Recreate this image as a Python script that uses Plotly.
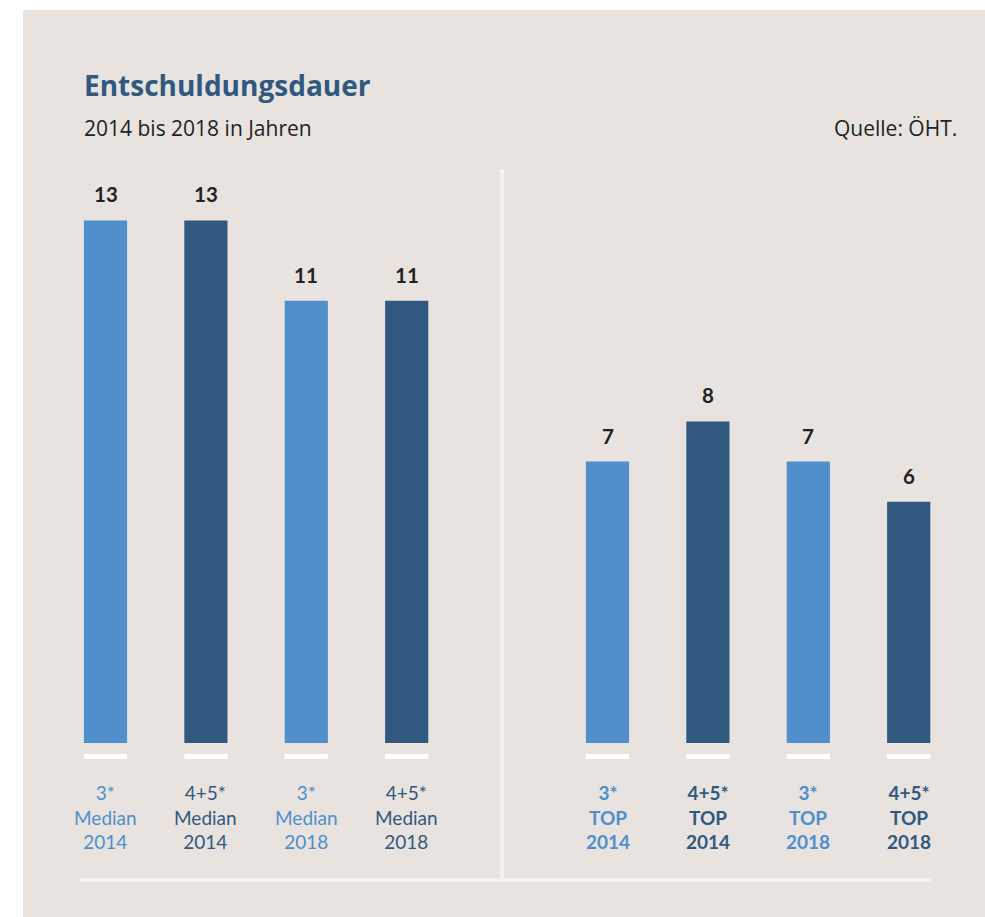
import plotly.graph_objects as go

# ---- data ----
stars = ["3*", "4+5*", "3*", "4+5*", "3*", "4+5*", "3*", "4+5*"]
measure = ["Median", "Median", "Median", "Median", "TOP", "TOP", "TOP", "TOP"]
years = ["2014", "2014", "2018", "2018", "2014", "2014", "2018", "2018"]
values = [13, 13, 11, 11, 7, 8, 7, 6]

# ---- styling ----
W, H = 985, 917
LIGHT = "#4F8FCC"
DARK = "#31597F"
BG = "#E8E3DF"
LINE = "#F6F1ED"
TXT = "#222222"
FONT = "Lato"
FONT2 = "Open Sans"

colors = [LIGHT if s == "3*" else DARK for s in stars]
# positions: two groups of four with a gap of one slot between them
xpos = [i + (1 if i >= 4 else 0) for i in range(len(values))]

# pixel mapping (margins 0 -> plot area == figure)
px0, pxu = 105.5, 100.4      # pixel x of slot 0, pixels per slot
py0, pyu = 743.0, 40.2       # pixel y of value 0, pixels per unit
xr = [(0 - px0) / pxu, (W - px0) / pxu]
yr = [-(H - py0) / pyu, py0 / pyu]


def px(x):
    return x / W


def py(y):
    return 1 - y / H


fig = go.Figure()
fig.add_trace(go.Bar(
    x=xpos, y=values, width=0.43, marker=dict(color=colors, line=dict(width=0)),
    hoverinfo="skip", showlegend=False,
))
# white base marks under each bar
fig.add_trace(go.Bar(
    x=xpos, y=[0.125] * len(values), base=[-0.4] * len(values), width=0.43,
    marker=dict(color="white", line=dict(width=0)), hoverinfo="skip", showlegend=False,
))

annotations = []
for x, v in zip(xpos, values):
    annotations.append(dict(
        x=x, y=v, xref="x", yref="y", text=f"<b>{v}</b>", showarrow=False,
        yanchor="middle", yshift=26, font=dict(family=FONT, size=20.5, color=TXT),
    ))
for i, (x, s, m, yv) in enumerate(zip(xpos, stars, measure, years)):
    c = colors[i]
    txt = f"{s}<br>{m}<br>{yv}"
    if m == "TOP":
        txt = f"<b>{s}</b><br><b>{m}</b><br><b>{yv}</b>"
    annotations.append(dict(
        x=x, y=py(817), xref="x", yref="paper", text=txt, showarrow=False,
        yanchor="middle", align="center",
        font=dict(family=FONT, size=19, color=c),
    ))

annotations += [
    dict(x=px(82), y=py(85), xref="paper", yref="paper", xanchor="left", yanchor="middle",
         text="<b>Entschuldungsdauer</b>", showarrow=False,
         font=dict(family=FONT2, size=28, color=DARK)),
    dict(x=px(82), y=py(128), xref="paper", yref="paper", xanchor="left", yanchor="middle",
         text="2014 bis 2018 in Jahren", showarrow=False,
         font=dict(family=FONT2, size=21, color=TXT)),
    dict(x=px(959), y=py(128), xref="paper", yref="paper", xanchor="right", yanchor="middle",
         text="Quelle: ÖHT.", showarrow=False,
         font=dict(family=FONT2, size=21, color=TXT)),
]

shapes = [
    dict(type="rect", xref="paper", yref="paper", x0=px(23), x1=1, y0=0, y1=py(10),
         fillcolor=BG, line=dict(width=0), layer="below"),
    dict(type="rect", xref="paper", yref="paper", x0=px(500), x1=px(504), y0=py(878), y1=py(169),
         fillcolor=LINE, line=dict(width=0), layer="below"),
    dict(type="rect", xref="paper", yref="paper", x0=px(80), x1=px(932), y0=py(882), y1=py(878),
         fillcolor=LINE, line=dict(width=0), layer="below"),
]

fig.update_layout(
    width=W, height=H, margin=dict(l=0, r=0, t=0, b=0, pad=0),
    paper_bgcolor="white", plot_bgcolor="rgba(0,0,0,0)",
    xaxis=dict(range=xr, visible=False, fixedrange=True),
    yaxis=dict(range=yr, visible=False, fixedrange=True),
    barmode="overlay", annotations=annotations, shapes=shapes,
    font=dict(family=FONT), showlegend=False,
)

fig.write_html(
    "out.html",
    config={"displayModeBar": False},
    post_script="document.body.style.margin='0px';document.body.style.overflow='hidden';",
)
